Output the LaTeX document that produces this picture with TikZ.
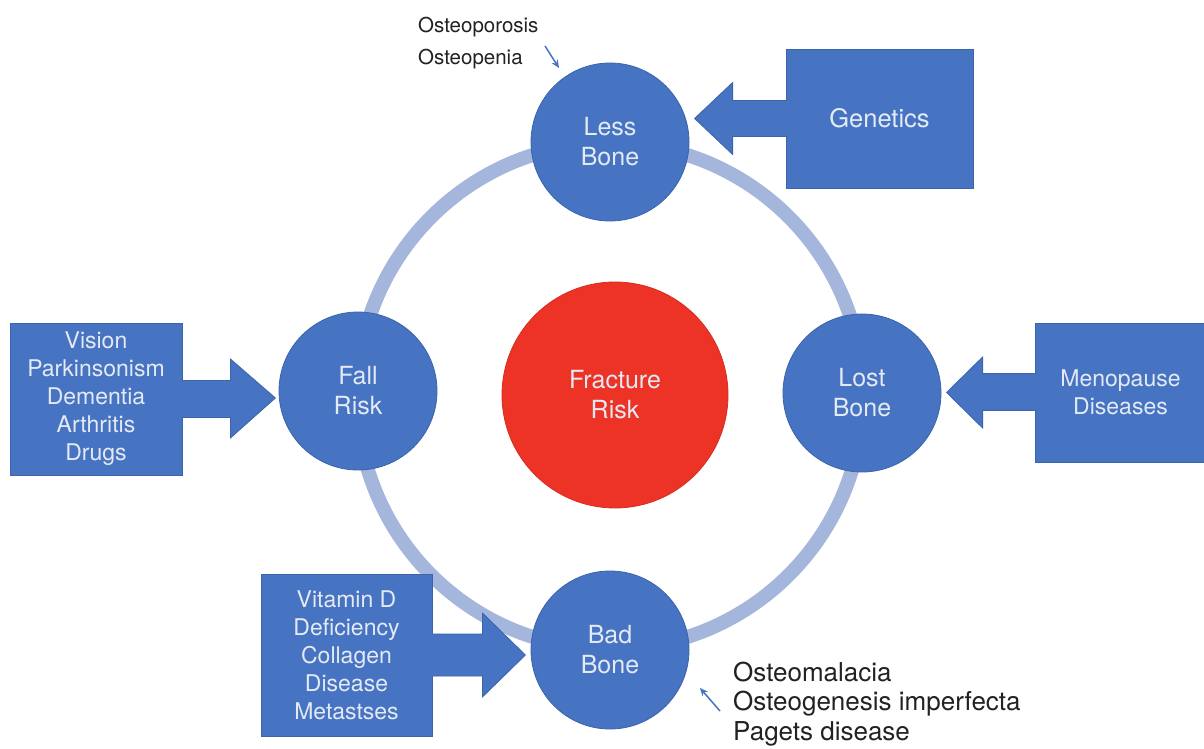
\documentclass[tikz,border=0pt]{standalone}
\usepackage{fontspec}
\setmainfont{TeX Gyre Heros}
\usetikzlibrary{calc,arrows.meta}
\definecolor{cblue}{HTML}{4673C2}
\definecolor{cedge}{HTML}{3B64AA}
\definecolor{cring}{HTML}{A5B6DC}
\definecolor{cred}{HTML}{EC3325}
\definecolor{ctext}{HTML}{E4EAF4}
\definecolor{cgrey}{HTML}{222222}
\begin{document}
\begin{tikzpicture}[x=1pt,y=-1pt,
  bcirc/.style={circle, fill=cblue, draw=cedge, line width=0.8pt, minimum size=158pt, inner sep=0pt,
    text=ctext, align=center, font=\fontsize{25}{30}\selectfont},
  rcirc/.style={circle, fill=cred, draw=cred!90!black, line width=0.8pt, minimum size=226pt, inner sep=0pt,
    text=ctext, align=center, font=\fontsize{25}{30}\selectfont},
  cbox/.style={rectangle, fill=cblue, draw=cedge, line width=0.8pt, inner sep=0pt,
    text=ctext, align=center, font=\fontsize{23}{28}\selectfont},
  carrow/.style={fill=cblue, draw=cedge, line width=0.8pt, line join=miter},
  ring/.style={draw=cring, line width=14pt},
  note/.style={inner sep=0pt, align=left, text=cgrey},
  pointer/.style={draw=cblue, line width=1.5pt, -{Stealth[length=8pt,width=7pt]}}
]
\useasboundingbox (0,0) rectangle (1204,749);
\fill[white] (0,0) rectangle (1204,749);

% ring
\draw[ring] (610,396) circle[radius=253pt];

% circles
\node[rcirc] (frac) at (615,395) {Fracture\\Risk};
\node[bcirc] (less) at (610,142) {Less\\Bone};
\node[bcirc] (fall) at (358,391) {Fall\\Risk};
\node[bcirc] (lost) at (862,393) {Lost\\Bone};
\node[bcirc] (bad) at (610,650) {Bad\\Bone};

% Genetics callout
\node[cbox, minimum width=187pt, minimum height=139pt, font=\fontsize{25.5}{30}\selectfont] (gen) at (879.5,118.5) {Genetics};
\fill[carrow] ($(gen.west)+(0.5,-18)$) -- ($(gen.west)+(-53,-18)$) -- ($(gen.west)+(-53,-36)$)
  -- ($(gen.west)+(-91,0)$) -- ($(gen.west)+(-53,36)$) -- ($(gen.west)+(-53,18)$) -- ($(gen.west)+(0.5,18)$);
\fill[cblue] ($(gen.west)+(-1,-17.6)$) rectangle ($(gen.west)+(1.2,17.6)$);

% Fall risk callout
\node[cbox, minimum width=172pt, minimum height=152pt] (fbox) at (96,399) {Vision\\Parkinsonism\\Dementia\\Arthritis\\Drugs};
\fill[carrow] ($(fbox.east)+(-0.5,-18.5)$) -- ($(fbox.east)+(48,-18.5)$) -- ($(fbox.east)+(48,-40)$)
  -- ($(fbox.east)+(93,-1)$) -- ($(fbox.east)+(48,39)$) -- ($(fbox.east)+(48,18.5)$) -- ($(fbox.east)+(-0.5,18.5)$);
\fill[cblue] ($(fbox.east)+(-1.2,-18.1)$) rectangle ($(fbox.east)+(1,18.1)$);

% Lost bone callout
\node[cbox, minimum width=171pt, minimum height=139pt] (lbox) at (1120.5,392.5) {Menopause\\Diseases};
\fill[carrow] ($(lbox.west)+(0.5,-19)$) -- ($(lbox.west)+(-52,-19)$) -- ($(lbox.west)+(-52,-35.5)$)
  -- ($(lbox.west)+(-88,0)$) -- ($(lbox.west)+(-52,35.5)$) -- ($(lbox.west)+(-52,18)$) -- ($(lbox.west)+(0.5,18)$);
\fill[cblue] ($(lbox.west)+(-1,-18.6)$) rectangle ($(lbox.west)+(1.2,17.6)$);

% Bad bone callout
\node[cbox, minimum width=171pt, minimum height=162pt] (bbox) at (346.5,655) {Vitamin D\\Deficiency\\Collagen\\Disease\\Metastses};
\fill[carrow] ($(bbox.east)+(-0.5,-21)$) -- ($(bbox.east)+(50,-21)$) -- ($(bbox.east)+(50,-42)$)
  -- ($(bbox.east)+(93,0)$) -- ($(bbox.east)+(50,42)$) -- ($(bbox.east)+(50,21)$) -- ($(bbox.east)+(-0.5,21)$);
\fill[cblue] ($(bbox.east)+(-1.2,-20.6)$) rectangle ($(bbox.east)+(1,20.6)$);

% annotations
\node[note, anchor=west, font=\fontsize{20.5}{32}\selectfont] (top) at (418,43) {Osteoporosis\\Osteopenia};
\coordinate (ptA) at (545,46);
\draw[pointer] (ptA) -- ($(less)+(-51,-74)$);

\node[note, anchor=west, font=\fontsize{26}{29.5}\selectfont] (bot) at (733,704) {Osteomalacia\\Osteogenesis imperfecta\\Pagets disease};
\coordinate (ptB) at (720,711);
\draw[pointer] (ptB) -- ($(bad)+(90,38)$);
\end{tikzpicture}
\end{document}
